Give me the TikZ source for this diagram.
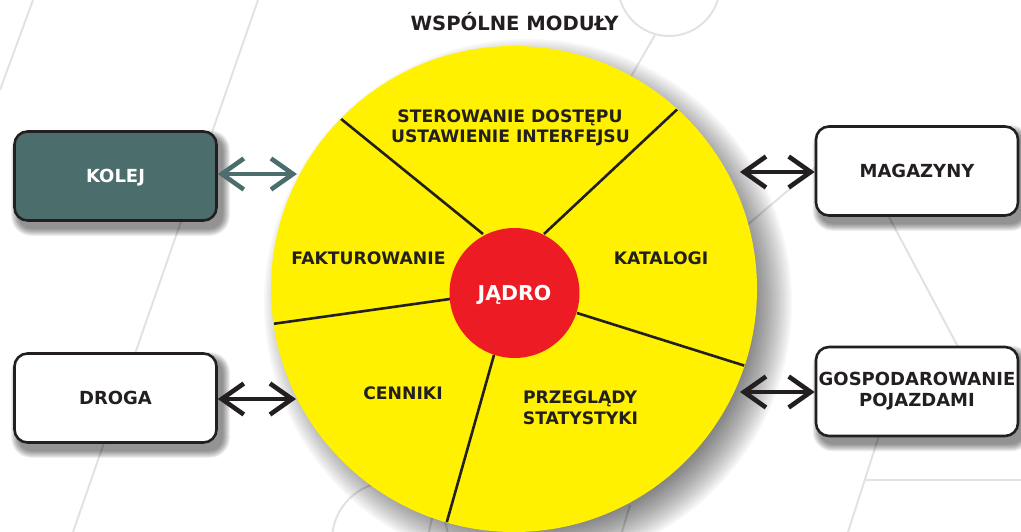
\documentclass[tikz,border=0pt]{standalone}
\usepackage{fontspec}
\setmainfont{DejaVu Sans}
\usetikzlibrary{arrows.meta,calc}
\definecolor{wyellow}{HTML}{FFF100}
\definecolor{wred}{HTML}{ED1C24}
\definecolor{wteal}{HTML}{4B6E6C}
\definecolor{wdark}{HTML}{231F20}
\definecolor{wline}{HTML}{E2E2E2}
\pgfdeclarelayer{decor}
\pgfdeclarelayer{shade}
\pgfsetlayers{decor,shade,main}
\begin{document}
\begin{tikzpicture}[x=1pt,y=-1pt,
  seglbl/.style={font=\fontsize{17.2}{20}\selectfont\bfseries, text=wdark, anchor=base, inner sep=0pt},
  modbox/.style={draw=wdark, line width=2.6pt, rounded corners=13pt, fill=white,
    minimum width=202pt, minimum height=89pt, align=center, inner sep=0pt,
    font=\fontsize{18}{21}\selectfont\bfseries, text=wdark},
  oneline/.style={text height=13.1pt, text depth=0pt},
  biarrow/.style={{Straight Barb[length=22pt,width=31pt]}-{Straight Barb[length=22pt,width=31pt]}, line width=4.6pt},
  bgline/.style={draw=wline, line width=2pt}]
\useasboundingbox (0,0) rectangle (1021,532);

% decorative background lines
\begin{pgfonlayer}{decor}
  \draw[bgline] (0,90) -- (33,0);
  \draw[bgline] (258,0) -- (73,532);
  \draw[bgline] (669,-15) circle (51pt);
  \draw[bgline] (655,35) -- (610,113);
  \draw[bgline] (700,265) -- (850,138);
  \draw[bgline] (880,200) -- (965,360);
  \draw[bgline] (884,420) -- (848,532);
  \draw[bgline] (864.6,480) -- (1021,480);
  \draw[bgline] (390,540) circle (58pt);
  \draw[bgline] (432,518) -- (429,532);
  \draw[bgline] (630,505) -- (622,532);
\end{pgfonlayer}

% title
\node[seglbl, font=\fontsize{19.6}{22}\selectfont\bfseries] (title) at (514.5,31) {WSPÓLNE MODUŁY};

% wheel
\node[circle, fill=wyellow, minimum size=486pt, inner sep=0pt] (wheel) at (514,289) {};
\begin{scope}
  \clip (514,289) circle (242.5pt);
  \draw[wdark, line width=2.6pt] (335,114) -- (483,234);
  \draw[wdark, line width=2.6pt] (684,103) -- (544,234);
  \draw[wdark, line width=2.6pt] (265,325) -- (450,299);
  \draw[wdark, line width=2.6pt] (752,368) -- (577,313);
  \draw[wdark, line width=2.6pt] (444,532) -- (494,355);
\end{scope}
\node[circle, fill=wred, minimum size=130pt, inner sep=0pt, text=white,
  font=\fontsize{20.5}{24}\selectfont\bfseries, text height=15pt, text depth=0pt] (core) at (514.5,293) {JĄDRO};

% segment labels
\node[seglbl] (ster1) at (510,123) {STEROWANIE DOSTĘPU};
\node[seglbl] (ster2) at (510.5,143) {USTAWIENIE INTERFEJSU};
\node[seglbl] (fakt) at (368.5,265) {FAKTUROWANIE};
\node[seglbl] (kat) at (661,265) {KATALOGI};
\node[seglbl] (cenn) at (403,399) {CENNIKI};
\node[seglbl] (przeg) at (580,403) {PRZEGLĄDY};
\node[seglbl] (stat) at (580.5,424) {STATYSTYKI};

% module boxes
\node[modbox, oneline, fill=wteal, text=white] (kolej) at (115.5,176) {KOLEJ};
\node[modbox, oneline] (droga) at (115.5,398) {DROGA};
\node[modbox, oneline] (magazyny) at (917,171) {MAGAZYNY};
\node[modbox] (gosp) at (917,391.5) {GOSPODAROWANIE\\POJAZDAMI};

% shadows
\begin{pgfonlayer}{shade}
  \foreach \k in {1,...,22}{
    \pgfmathsetmacro\rr{220+2*\k}
    \fill[black, opacity=0.03] ($(wheel.center)+(14,14)$) circle (\rr pt);
  }
  \foreach \b in {kolej,droga,magazyny,gosp}{
    \foreach \k in {0,...,7}{
      \pgfmathsetmacro\rc{13+\k}
      \fill[black, opacity=0.065, rounded corners=\rc pt]
        ($(\b.south west)+(5-\k,7+\k)$) rectangle ($(\b.north east)+(5+\k,7-\k)$);
    }
  }
\end{pgfonlayer}

% connectors
\coordinate (kin) at (297,174);
\coordinate (din) at (296,399);
\coordinate (min) at (740,172);
\coordinate (gin) at (740,392);
\draw[biarrow, wteal] (kolej.east |- kin) -- (kin);
\draw[biarrow, wdark] (droga.east |- din) -- (din);
\draw[biarrow, wdark] (min) -- (magazyny.west |- min);
\draw[biarrow, wdark] (gin) -- (gosp.west |- gin);
\end{tikzpicture}
\end{document}
